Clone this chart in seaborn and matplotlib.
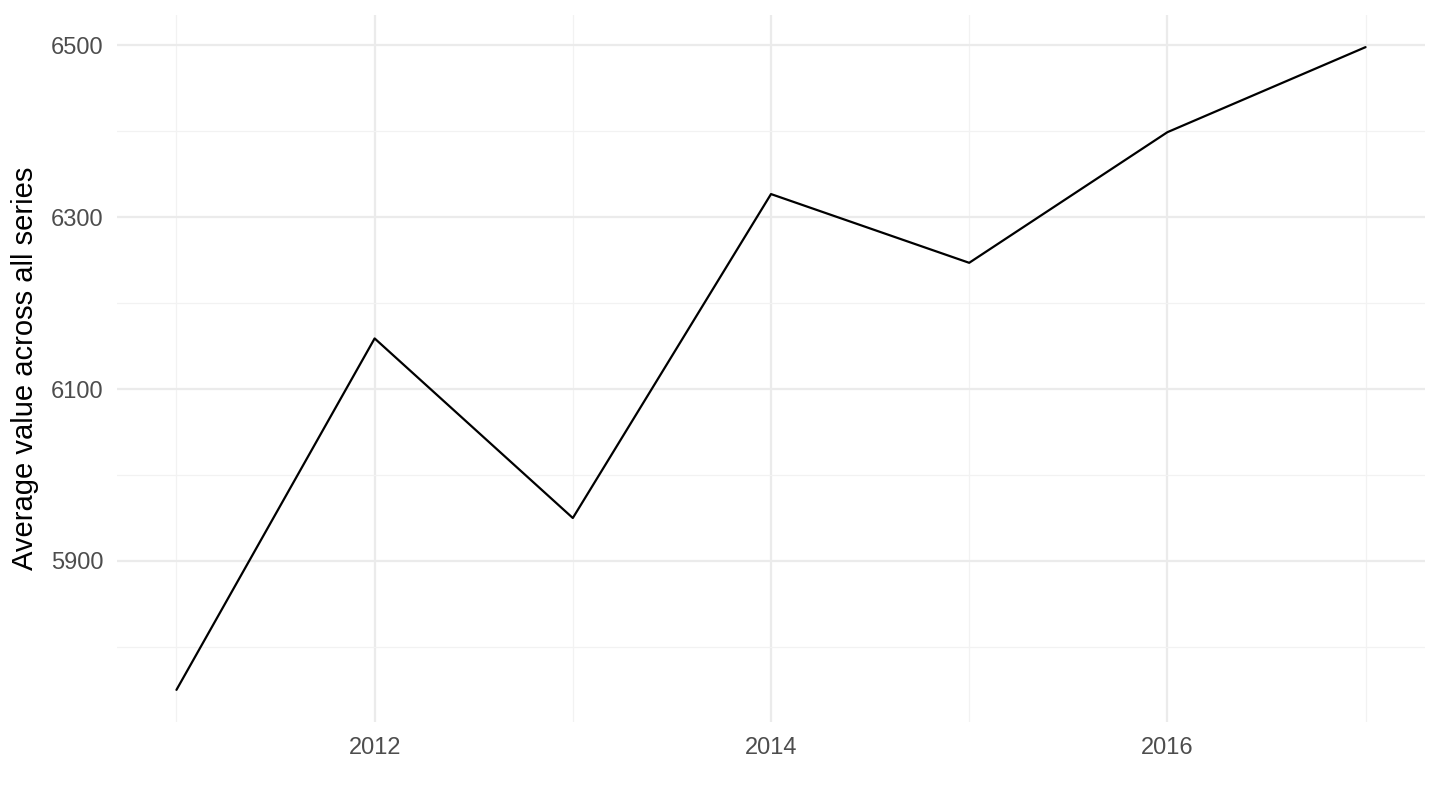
import matplotlib
matplotlib.use("Agg")
import matplotlib.pyplot as plt
import seaborn as sns
import pandas as pd
from matplotlib.ticker import MultipleLocator

years = [2011, 2012, 2013, 2014, 2015, 2016, 2017]
avg_values = [5750, 6159, 5950, 6327, 6247, 6399, 6498]

df = pd.DataFrame({"year": years, "value": avg_values})

sns.set_theme(style="white")
plt.rcParams["font.family"] = ["Liberation Sans", "DejaVu Sans"]

fig = plt.figure(figsize=(14.4, 8.1), dpi=100)
ax = fig.add_axes([117 / 1440, 1 - 722 / 810, (1425 - 117) / 1440, (722 - 15) / 810])

sns.lineplot(data=df, x="year", y="value", color="black", linewidth=1.6, ax=ax)

# ggplot-like expansion (5% each side)
xr = max(years) - min(years)
yr = max(avg_values) - min(avg_values)
ax.set_xlim(min(years) - 0.05 * xr, max(years) + 0.05 * xr)
ax.set_ylim(min(avg_values) - 0.05 * yr, max(avg_values) + 0.05 * yr)

ax.set_xticks([2012, 2014, 2016])
ax.set_yticks([5900, 6100, 6300, 6500])
ax.xaxis.set_minor_locator(MultipleLocator(1))
ax.yaxis.set_minor_locator(MultipleLocator(100))

ax.grid(which="major", color="#EBEBEB", linewidth=1.6)
ax.grid(which="minor", color="#F2F2F2", linewidth=0.9)
ax.set_axisbelow(True)
for s in ax.spines.values():
    s.set_visible(False)

ax.tick_params(axis="both", which="both", length=0, labelsize=17, labelcolor="#4D4D4D")
ax.tick_params(axis="x", pad=11)
ax.tick_params(axis="y", pad=10)
ax.set_xlabel("")
ax.set_ylabel("Average value across all series", fontsize=21, color="black", labelpad=8)

fig.savefig("out.png", dpi=100)
